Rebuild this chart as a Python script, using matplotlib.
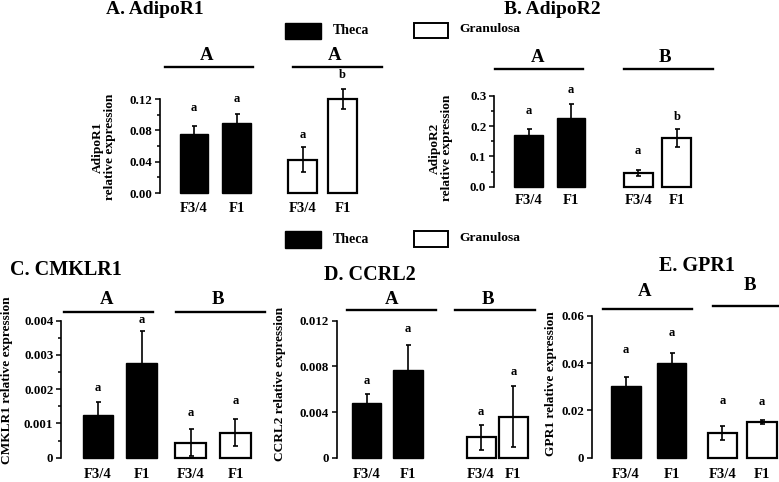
import matplotlib
matplotlib.use("Agg")
import matplotlib.pyplot as plt
from matplotlib.lines import Line2D
from matplotlib.patches import Rectangle

plt.rcParams['font.family'] = ['Liberation Serif', 'DejaVu Serif']
plt.rcParams['font.weight'] = 'bold'

W, H = 779, 482

# ---- data ----
groups = ["F3/4", "F1", "F3/4", "F1"]

adipor1_theca = [0.0757, 0.090]
adipor1_theca_err = [0.010, 0.0105]
adipor1_gran = [0.0425, 0.120]
adipor1_gran_err = [0.016, 0.013]
adipor1_letters = ["a", "a", "a", "b"]

adipor2_theca = [0.170, 0.2275]
adipor2_theca_err = [0.020, 0.044]
adipor2_gran = [0.046, 0.160]
adipor2_gran_err = [0.010, 0.029]
adipor2_letters = ["a", "a", "a", "b"]

cmklr1_theca = [0.00125, 0.00276]
cmklr1_theca_err = [0.00038, 0.00094]
cmklr1_gran = [0.00044, 0.00073]
cmklr1_gran_err = [0.0004, 0.0004]
cmklr1_letters = ["a", "a", "a", "a"]

ccrl2_theca = [0.0048, 0.0077]
ccrl2_theca_err = [0.0008, 0.0022]
ccrl2_gran = [0.0018, 0.0036]
ccrl2_gran_err = [0.0011, 0.0027]
ccrl2_letters = ["a", "a", "a", "a"]

gpr1_theca = [0.0304, 0.0402]
gpr1_theca_err = [0.0036, 0.004]
gpr1_gran = [0.0103, 0.0152]
gpr1_gran_err = [0.003, 0.0008]
gpr1_letters = ["a", "a", "a", "a"]


def fx(x):
    return x / W


def fy(y):
    return 1 - y / H


fig = plt.figure(figsize=(W / 100, H / 100), dpi=100)


def panel(theca, theca_err, gran, gran_err, letters, lay):
    xa, ytop, ybot, xr = lay["xa"], lay["ytop"], lay["ybot"], lay["xr"]
    c0, u, pos, bw = lay["c0"], lay["u"], lay["pos"], lay["bw"]
    ax = fig.add_axes([fx(xa), fy(ybot), fx(xr - xa), (ybot - ytop) / H])
    vals = theca + gran
    errs = theca_err + gran_err
    ax.bar(pos[:2], theca, width=bw, color="black", edgecolor="black", linewidth=1, clip_on=False)
    ax.bar(pos[2:], gran, width=bw, color="white", edgecolor="black", linewidth=1.6, clip_on=False)
    eb = ax.errorbar(pos, vals, yerr=errs, fmt="none", ecolor="black",
                     elinewidth=1.2, capsize=1.8, capthick=1.2)
    for art in eb.lines[1] + eb.lines[2]:
        art.set_clip_on(False)
    for p, v, e, t, off in zip(pos, vals, errs, letters, lay["loff"]):
        ax.annotate(t, xy=(p, v + e), xytext=(0, off * 0.72), textcoords="offset points",
                    ha="center", va="center", fontsize=9, annotation_clip=False)
    ax.set_xlim((xa - c0) / u, (xr - c0) / u)
    ax.set_ylim(0, lay["ymax"])
    ax.set_yticks(lay["ticks"])
    ax.set_yticklabels(lay["ticklabels"])
    if lay.get("minor"):
        ax.set_yticks(lay["minor"], minor=True)
    ax.set_xticks(pos)
    ax.set_xticklabels(groups, fontsize=10.5)
    ax.tick_params(axis="x", length=0, pad=lay.get("xpad", 7))
    ax.tick_params(axis="y", which="major", length=3.5, width=1.1, labelsize=9.3, pad=2)
    ax.tick_params(axis="y", which="minor", length=2.5, width=1.1)
    for s in ["top", "right", "bottom"]:
        ax.spines[s].set_visible(False)
    ax.spines["left"].set_linewidth(1.2)
    ax.patch.set_alpha(0)
    return ax


def hline(x0, x1, y):
    fig.add_artist(Line2D([fx(x0), fx(x1)], [fy(y), fy(y)], color="black", lw=1.7))


def ftext(x, y, s, size, **kw):
    fig.text(fx(x), fy(y), s, fontsize=size, ha=kw.pop("ha", "center"), va="center", **kw)


def legend(y0, y1):
    fig.add_artist(Rectangle((fx(285), fy(y1)), fx(36), (y1 - y0) / H,
                             facecolor="black", edgecolor="black", lw=1))
    fig.add_artist(Rectangle((fx(414), fy(y1 - 1.5)), fx(34), (y1 - y0 - 1.5) / H,
                             facecolor="white", edgecolor="black", lw=1.4))
    ftext(333, (y0 + y1) / 2, "Theca", 10, ha="left")
    ftext(459, (y0 + y1) / 2 - 1.5, "Granulosa", 9.7, ha="left")


# ---- layout ----
lay_a = dict(xa=160, ytop=99, ybot=193, xr=365, c0=194, u=42.5, pos=[0, 1, 2.56, 3.5], bw=0.68,
             ymax=0.12, ticks=[0, 0.04, 0.08, 0.12], ticklabels=["0.00", "0.04", "0.08", "0.12"],
             minor=[0.02, 0.06, 0.10], loff=[18, 15, 12, 14], xpad=6.5)
lay_b = dict(xa=494, ytop=95.7, ybot=186.7, xr=700, c0=528.5, u=42.5, pos=[0, 1, 2.58, 3.49], bw=0.68,
             ymax=0.3, ticks=[0, 0.1, 0.2, 0.3], ticklabels=["0.0", "0.1", "0.2", "0.3"],
             minor=[0.05, 0.15, 0.25], loff=[18, 14, 19, 12], xpad=5.5)
lay_c = dict(xa=61, ytop=320.7, ybot=457.7, xr=262, c0=98, u=43.5, pos=[0, 1, 2.13, 3.16], bw=0.71,
             ymax=0.004, ticks=[0, 0.001, 0.002, 0.003, 0.004],
             ticklabels=["0", "0.001", "0.002", "0.003", "0.004"],
             minor=[0.0005, 0.0015, 0.0025, 0.0035], loff=[14, 11, 16, 18], xpad=7.5)
lay_d = dict(xa=336.7, ytop=320.7, ybot=457.7, xr=535, c0=366.5, u=41.5, pos=[0, 1, 2.76, 3.54], bw=0.70,
             ymax=0.012, ticks=[0, 0.004, 0.008, 0.012], ticklabels=["0", "0.004", "0.008", "0.012"],
             loff=[13, 16, 13, 14], xpad=7.5)
lay_e = dict(xa=591.7, ytop=316, ybot=457.7, xr=779, c0=626, u=45.5, pos=[0, 1, 2.12, 2.99], bw=0.64,
             ymax=0.06, ticks=[0, 0.02, 0.04, 0.06], ticklabels=["0", "0.02", "0.04", "0.06"],
             loff=[27, 20, 25, 18], xpad=7.5)

panel(adipor1_theca, adipor1_theca_err, adipor1_gran, adipor1_gran_err, adipor1_letters, lay_a)
panel(adipor2_theca, adipor2_theca_err, adipor2_gran, adipor2_gran_err, adipor2_letters, lay_b)
panel(cmklr1_theca, cmklr1_theca_err, cmklr1_gran, cmklr1_gran_err, cmklr1_letters, lay_c)
panel(ccrl2_theca, ccrl2_theca_err, ccrl2_gran, ccrl2_gran_err, ccrl2_letters, lay_d)
panel(gpr1_theca, gpr1_theca_err, gpr1_gran, gpr1_gran_err, gpr1_letters, lay_e)

# titles
ftext(155, 9, "A. AdipoR1", 14)
ftext(552, 9, "B. AdipoR2", 14)
ftext(66, 270, "C. CMKLR1", 14.5)
ftext(370, 275, "D. CCRL2", 14.5)
ftext(697, 266, "E. GPR1", 14.5)

# y labels
ftext(104, 147, "AdipoR1\nrelative expression", 9.6, rotation=90, linespacing=1.0)
ftext(441, 148, "AdipoR2\nrelative expression", 9.6, rotation=90, linespacing=1.0)
ftext(7, 380, "CMKLR1 relative expression", 9.6, rotation=90)
ftext(280, 384, "CCRL2 relative expression", 9.6, rotation=90)
ftext(551, 384, "GPR1 relative expression", 9.6, rotation=90)

# group letters and lines
for x, y, s, x0, x1, ly in [
    (207, 55, "A", 165, 253, 67), (335, 55, "A", 293, 382, 67),
    (538, 58, "A", 495, 583, 69), (665, 58, "B", 624, 713, 69),
    (107, 300, "A", 64, 153, 311.7), (218, 300, "B", 176, 265, 311.7),
    (392, 300, "A", 347, 436, 310), (488, 300, "B", 455, 535, 310),
    (645, 292, "A", 603, 692, 309), (750, 285, "B", 713, 779, 306),
]:
    ftext(x, y, s, 13.5)
    hline(x0, x1, ly)

legend(22.7, 39.3)
legend(231, 248.3)

fig.savefig("out.png", dpi=100)
